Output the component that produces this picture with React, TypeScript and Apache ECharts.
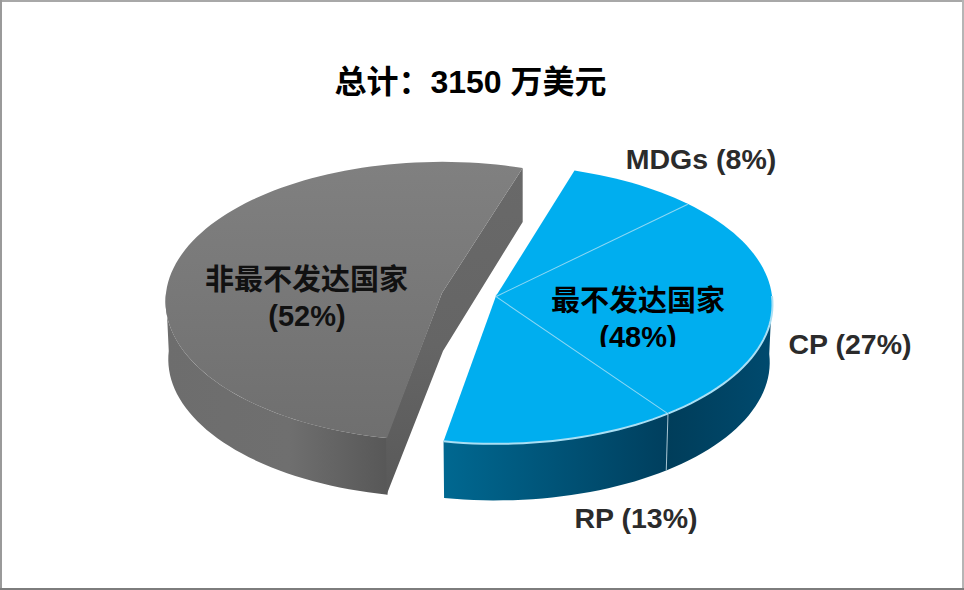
import React, { useEffect, useRef } from "react";
import * as echarts from "echarts";

const titleText = "总计：3150 万美元";
const sliceNames = ["MDGs", "CP", "RP", "非最不发达国家"];
const sliceShares = [8, 27, 13, 52];
const sliceGroups = [0, 0, 0, 1];
const outerLabels = ["MDGs (8%)", "CP (27%)", "RP (13%)"];
const innerLabels = ["最不发达国家", "(48%)", "非最不发达国家", "(52%)"];

const FONT = '"Liberation Sans", "Noto Sans CJK SC", sans-serif';
const START_DEG = [-72.5, -72];
const RX = 276;
const RY = 139;
const PERSP = 0.06;
const DEPTH = 58;
const CENTERS = [
  [496, 296],
  [442, 293],
];

function project(c: number[], deg: number, drop = 0) {
  const a = (deg * Math.PI) / 180;
  const u = Math.cos(a);
  const v = Math.sin(a);
  const s = (1 / (1 - PERSP * v)) * (drop ? 0.99 : 1);
  return [c[0] + RX * u * s, c[1] + RY * v * s + drop];
}
function arc(c: number[], a0: number, a1: number, drop = 0) {
  const pts: number[][] = [];
  const n = Math.max(2, Math.ceil(Math.abs(a1 - a0) / 2));
  for (let i = 0; i <= n; i++) pts.push(project(c, a0 + ((a1 - a0) * i) / n, drop));
  return pts;
}
function grad(x: number, x2: number, stops: [number, string][], y = 0, y2 = 0) {
  return {
    type: "linear",
    global: true,
    x,
    y,
    x2,
    y2,
    colorStops: stops.map(([offset, color]) => ({ offset, color })),
  };
}

function renderSlice(_: any, api: any) {
  const group = api.value(2);
  const a0 = START_DEG[group] + api.value(0) * 3.6;
  const a1 = START_DEG[group] + api.value(1) * 3.6;
  const c = CENTERS[group];
  const children: any[] = [];
  const w0 = Math.max(a0, 0);
  const w1 = Math.min(a1, 180);
  if (w1 > w0) {
    const wall = arc(c, w0, w1).concat(arc(c, w1, w0, DEPTH));
    const fill =
      group === 1
        ? grad(165, 389, [[0, "#6d6d6d"], [0.55, "#6f6f6f"], [1, "#575757"]])
        : a0 < 0
        ? grad(667, 772, [[0, "#003d5a"], [1, "#004a6e"]])
        : grad(443, 667, [[0, "#006891"], [1, "#003f5e"]]);
    children.push({ type: "polygon", shape: { points: wall }, style: { fill } });
  }
  if (group === 1) {
    const top = project(c, a1);
    const bot = project(c, a0);
    const botDrop = project(c, a0, DEPTH);
    const wallPts = [top, c, [bot[0] - 1, bot[1]], [botDrop[0] - 1, botDrop[1]], [c[0] + 1, c[1] + DEPTH], [top[0], top[1] + 54]];
    children.push({
      type: "polygon",
      shape: { points: wallPts },
      style: { fill: grad(0, 0, [[0, "#696969"], [0.55, "#656565"], [1, "#595959"]], 166, 493) },
    });
  }
  const face = [c].concat(arc(c, a0, a1));
  children.push({
    type: "polygon",
    shape: { points: face },
    style:
      group === 1
        ? { fill: grad(0, 0, [[0, "#808080"], [1, "#6f6f6f"]], 162, 438) }
        : { fill: "#00aeef" },
  });
  if (group === 0) {
    if (a0 > START_DEG[0]) {
      children.push({
        type: "polyline",
        shape: { points: [c, project(c, a0)] },
        style: { stroke: "#8ed8f4", lineWidth: 2, fill: "none" },
      });
    }
    if (a0 >= 0) {
      const p = project(c, a0);
      children.push({
        type: "polyline",
        shape: { points: [p, project(c, a0, DEPTH)] },
        style: { stroke: "#a9c6d3", lineWidth: 2, fill: "none" },
      });
    }
    if (w1 > w0) {
      children.push({
        type: "polyline",
        shape: { points: arc(c, w0, w1) },
        style: { stroke: "#a9dff4", lineWidth: 2, fill: "none" },
      });
    }
  }
  return { type: "group", children };
}

function sliceData() {
  let acc = 0;
  return sliceNames.map((name, i) => {
    const start = acc;
    acc += sliceShares[i];
    return { name, value: [start, acc, sliceGroups[i]] };
  });
}

function label(text: string, x: number, y: number, size: number, fill: string) {
  return {
    type: "text",
    z: 100,
    x,
    y,
    style: {
      text,
      fill,
      font: `bold ${size}px ${FONT}`,
      align: "center",
      verticalAlign: "middle",
    },
  };
}
const frameRect = (x: number, y: number, width: number, height: number, fill: string) => ({
  type: "rect",
  z: 110,
  shape: { x, y, width, height },
  style: { fill },
});

export default function App() {
  const ref = useRef<HTMLDivElement>(null);
  useEffect(() => {
    document.body.style.margin = "0";
    const chart = echarts.init(ref.current!, null, { renderer: "svg" });
    chart.setOption({
      animation: false,
      backgroundColor: "#ffffff",
      title: {
        text: titleText,
        left: 465.5,
        top: 61,
        textAlign: "center",
        textStyle: { fontFamily: FONT, fontSize: 32, fontWeight: "bold", color: "#000" },
      },
      series: [
        {
          type: "custom",
          coordinateSystem: "none",
          silent: true,
          renderItem: renderSlice,
          data: sliceData().reverse(),
        },
      ],
      graphic: {
        elements: [
          label(outerLabels[0], 701, 159, 28.5, "#2b2b2b"),
          label(outerLabels[1], 850, 344, 28.5, "#2b2b2b"),
          label(outerLabels[2], 636, 518, 28.5, "#2b2b2b"),
          label(innerLabels[0], 638, 301, 29, "#000"),
          label(innerLabels[1], 638, 337, 29, "#000"),
          { type: "rect", z: 105, shape: { x: 590, y: 347, width: 96, height: 9 }, style: { fill: "#00aeef" } },
          label(innerLabels[2], 306.5, 280, 29, "#111"),
          label(innerLabels[3], 307, 316, 29, "#111"),
          frameRect(0, 0, 964, 2, "#a8a8a8"),
          frameRect(0, 0, 2, 590, "#9a9a9a"),
          frameRect(962, 0, 2, 590, "#b5b5b5"),
          frameRect(0, 588, 964, 2, "#7d7d7d"),
        ],
      },
    });
    return () => chart.dispose();
  }, []);
  return <div ref={ref} style={{ width: 964, height: 590 }} />;
}
